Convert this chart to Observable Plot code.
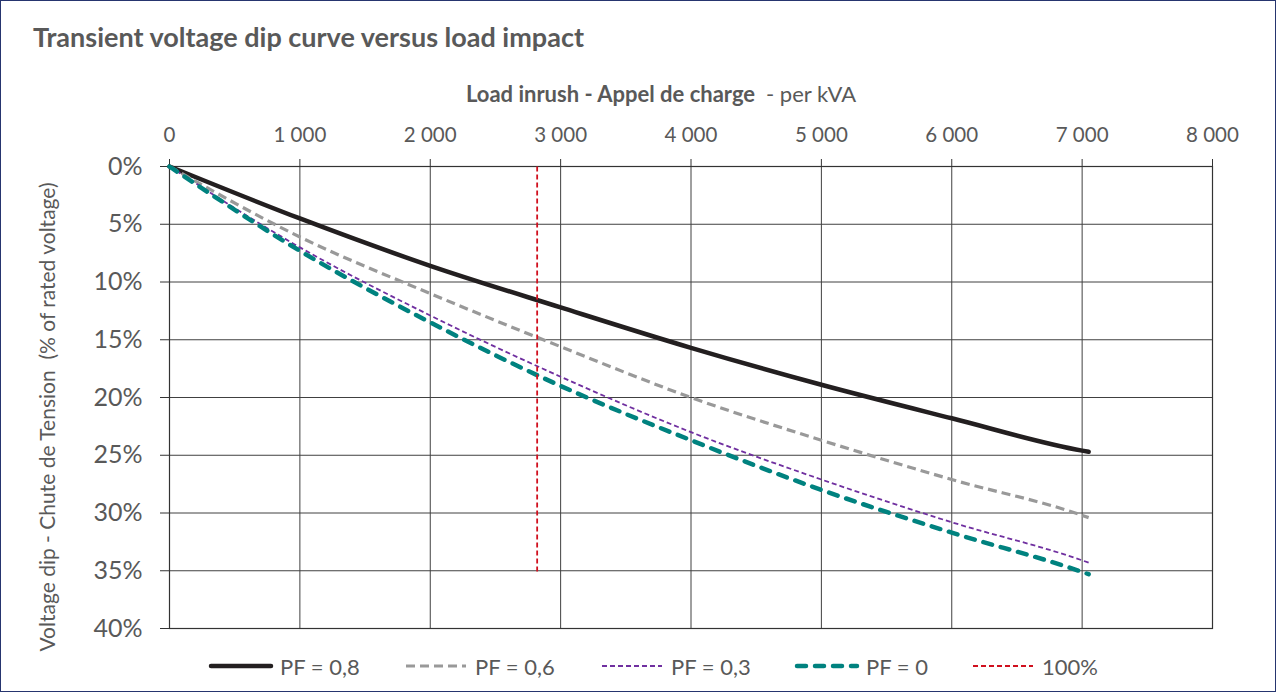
<!DOCTYPE html>
<html>
<head>
<meta charset="utf-8">
<script src="https://cdn.jsdelivr.net/npm/d3@7"></script>
<script src="https://cdn.jsdelivr.net/npm/@observablehq/plot@0.6"></script>
<style>
  html, body { margin: 0; padding: 0; background: #fff; }
  #frame {
    position: relative; width: 1276px; height: 692px; box-sizing: border-box;
    border: 1px solid #26356f; overflow: hidden; background: #fff;
    font-family: Lato, "Open Sans", sans-serif; color: #595959;
  }
  #title {
    position: absolute; left: 32px; top: 21px; font-size: 27px; font-weight: bold;
    line-height: 30px; white-space: nowrap; color: #595959;
  }
  #chart { position: absolute; left: 0; top: 69px; }
  #chart svg { overflow: visible; }
  .leg { position: absolute; top: 651px; height: 28px; display: flex; align-items: center; white-space: nowrap; font-size: 22px; color: #595959; }
  .leg svg { margin-right: 6px; }
</style>
</head>
<body>
<div id="frame">
  <div id="title">Transient voltage dip curve versus load impact</div>
  <div id="chart"></div>
  <div id="legend"></div>
</div>
<script>
// ---- Data ----
const loadKVA = [0, 1000, 2000, 3000, 4000, 5000, 6000, 7000, 7050];
const dipPF08 = [0, 4.5, 8.6, 12.2, 15.7, 18.9, 21.8, 24.6, 24.7];
const dipPF06 = [0, 6.1, 11.0, 15.6, 20.0, 23.7, 27.1, 30.2, 30.4];
const dipPF03 = [0, 7.0, 12.9, 18.2, 23.0, 27.1, 30.8, 34.1, 34.3];
const dipPF0  = [0, 7.3, 13.5, 19.0, 23.7, 28.0, 31.7, 35.1, 35.3];
const limitKVA = [2820, 2820];
const limitDip = [0, 35.3];
const seriesNames = ["PF = 0,8", "PF = 0,6", "PF = 0,3", "PF = 0", "100%"];
const xTicks = [0, 1000, 2000, 3000, 4000, 5000, 6000, 7000, 8000];
const yTicks = [0, 5, 10, 15, 20, 25, 30, 35, 40];

// ---- Styles ----
const styles = [
  {stroke: "#231f20", strokeWidth: 4.5, strokeDasharray: null, strokeLinecap: "round"},
  {stroke: "#999999", strokeWidth: 3.2, strokeDasharray: "9,5", strokeLinecap: "butt"},
  {stroke: "#7030a0", strokeWidth: 1.8, strokeDasharray: "5,3", strokeLinecap: "butt"},
  {stroke: "#00827f", strokeWidth: 4.5, strokeDasharray: "9,9", strokeLinecap: "round"},
  {stroke: "#d0101e", strokeWidth: 1.8, strokeDasharray: "5,3", strokeLinecap: "butt"}
];

const toRows = (xs, ys) => xs.map((x, i) => ({x, y: ys[i]}));
const curves = [dipPF08, dipPF06, dipPF03, dipPF0].map(ys => toRows(loadKVA, ys));
const limitRows = toRows(limitKVA, limitDip);

const fmtX = d => d3.format(",")(d).replace(/,/g, " ");

const lineMarks = curves.map((rows, i) =>
  Plot.line(rows, {x: "x", y: "y", curve: "monotone-x", ...styles[i], strokeDasharray: styles[i].strokeDasharray || undefined})
);

const plot = Plot.plot({
  width: 1274,
  height: 580,
  marginTop: 96,
  marginBottom: 22,
  marginLeft: 168,
  marginRight: 63,
  style: {fontFamily: 'Lato, "Open Sans", sans-serif', color: "#595959", background: "transparent", overflow: "visible"},
  x: {domain: [0, 8000], label: null},
  y: {domain: [0, 40], reverse: true, label: null},
  marks: [
    Plot.gridX(xTicks, {stroke: "#404040", strokeOpacity: 1, strokeWidth: 1}),
    Plot.gridY(yTicks, {stroke: "#404040", strokeOpacity: 1, strokeWidth: 1}),
    Plot.frame({stroke: "#333", strokeWidth: 1.2}),
    Plot.axisX({anchor: "top", ticks: xTicks, tickFormat: fmtX, tickSize: 8, tickPadding: 17, fontSize: 20.5, stroke: "#333", fill: "#595959", label: null}),
    Plot.axisY({anchor: "left", ticks: yTicks, tickFormat: d => d + "%", tickSize: 9, tickPadding: 18, fontSize: 25, stroke: "#333", fill: "#595959", label: null}),
    ...lineMarks,
    Plot.line(limitRows, {x: "x", y: "y", ...styles[4]})
  ]
});
plot.style.overflow = "visible";
document.getElementById("chart").appendChild(plot);

// Axis titles
const svg = d3.select(plot);
const xt = svg.append("text")
  .attr("x", 660).attr("y", 23).attr("text-anchor", "middle").attr("dominant-baseline", "central")
  .attr("fill", "#595959").attr("font-size", 22);
xt.append("tspan").attr("font-weight", "bold").text("Load inrush - Appel de charge ");
xt.append("tspan").text(" - per kVA");
svg.append("text")
  .attr("transform", "translate(45,347) rotate(-90)")
  .attr("text-anchor", "middle").attr("dominant-baseline", "central")
  .attr("fill", "#595959").attr("font-size", 21)
  .text("Voltage dip - Chute de Tension  (% of rated voltage)");

// Legend
const legLefts = [207, 402, 598, 793, 969];
const legend = document.getElementById("legend");
seriesNames.forEach((name, i) => {
  const s = styles[i];
  const div = document.createElement("div");
  div.className = "leg";
  div.style.left = legLefts[i] + "px";
  const ns = "http://www.w3.org/2000/svg";
  const sw = document.createElementNS(ns, "svg");
  sw.setAttribute("width", 66); sw.setAttribute("height", 12);
  const ln = document.createElementNS(ns, "line");
  ln.setAttribute("x1", 3); ln.setAttribute("x2", 63); ln.setAttribute("y1", 6); ln.setAttribute("y2", 6);
  ln.setAttribute("stroke", s.stroke); ln.setAttribute("stroke-width", s.strokeWidth);
  if (s.strokeDasharray) ln.setAttribute("stroke-dasharray", s.strokeDasharray);
  ln.setAttribute("stroke-linecap", s.strokeLinecap);
  sw.appendChild(ln);
  div.appendChild(sw);
  const t = document.createElement("span");
  t.textContent = name;
  div.appendChild(t);
  legend.appendChild(div);
});
</script>
</body>
</html>
